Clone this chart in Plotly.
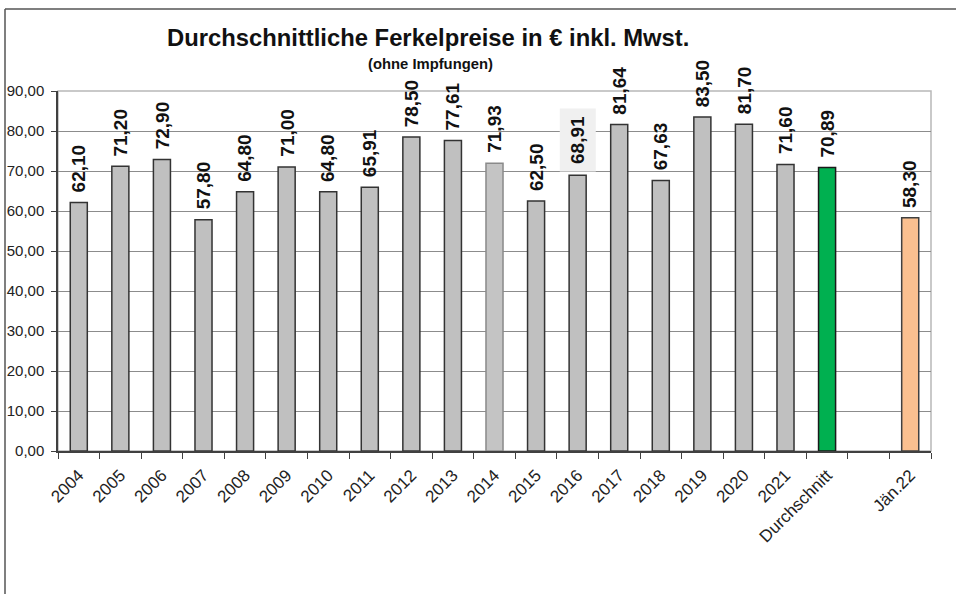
import plotly.graph_objects as go

categories = ["2004", "2005", "2006", "2007", "2008", "2009", "2010", "2011", "2012",
              "2013", "2014", "2015", "2016", "2017", "2018", "2019", "2020", "2021",
              "Durchschnitt", " ", "Jän.22"]
values = [62.10, 71.20, 72.90, 57.80, 64.80, 71.00, 64.80, 65.91, 78.50,
          77.61, 71.93, 62.50, 68.91, 81.64, 67.63, 83.50, 81.70, 71.60,
          70.89, None, 58.30]
value_labels = ["62,10", "71,20", "72,90", "57,80", "64,80", "71,00", "64,80", "65,91", "78,50",
                "77,61", "71,93", "62,50", "68,91", "81,64", "67,63", "83,50", "81,70", "71,60",
                "70,89", "", "58,30"]

GRAY = "#c0c0c0"
fill_colors = []
line_colors = []
for c in categories:
    if c == "Durchschnitt":
        fill_colors.append("#00b050"); line_colors.append("#1a1a1a")
    elif c == "Jän.22":
        fill_colors.append("#fac090"); line_colors.append("#404040")
    elif c == "2014":
        fill_colors.append("#c4c4c4"); line_colors.append("#8a8a8a")
    else:
        fill_colors.append(GRAY); line_colors.append("#333333")

fig = go.Figure()
fig.add_trace(go.Bar(
    x=categories, y=values,
    marker=dict(color=fill_colors, line=dict(color=line_colors, width=1.5)),
    hoverinfo="x+y",
))

FONT = "Liberation Sans, Arial"
annotations = []
for i, (c, v, t) in enumerate(zip(categories, values, value_labels)):
    if v is None:
        continue
    a = dict(x=i, y=v, xref="x", yref="y", text="<b>%s</b>" % t, textangle=-90,
             showarrow=False, yanchor="bottom", xanchor="center",
             font=dict(family=FONT, size=19, color="#111111"),
             yshift=8)
    if c == "2016":
        a.update(bgcolor="#f0f0f0", borderpad=7, yshift=3)
    annotations.append(a)

# page-pixel -> paper helpers (plot area spans x 58..931, y 91..451)
def px(x):
    return (x - 58) / 873

def py(y):
    return (451 - y) / 360

annotations.append(dict(text="<b>Durchschnittliche Ferkelpreise in € inkl. Mwst.</b>",
                        xref="paper", yref="paper", x=px(428), y=py(37),
                        showarrow=False, xanchor="center", yanchor="middle",
                        font=dict(family=FONT, size=23.8, color="#111111")))
annotations.append(dict(text="<b>(ohne Impfungen)</b>",
                        xref="paper", yref="paper", x=px(430), y=py(64),
                        showarrow=False, xanchor="center", yanchor="middle",
                        font=dict(family=FONT, size=14.8, color="#111111")))

shapes = [
    dict(type="rect", xref="paper", yref="paper", x0=0, y0=0, x1=1, y1=1,
         line=dict(color="#b8b8b8", width=1.5), layer="below"),
    dict(type="line", xref="paper", yref="paper", x0=px(5), x1=px(960),
         y0=py(9), y1=py(9), line=dict(color="#555555", width=1.5)),
    dict(type="line", xref="paper", yref="paper", x0=px(5), x1=px(5),
         y0=py(9), y1=py(600), line=dict(color="#555555", width=1.5)),
]

fig.update_layout(
    width=956, height=594,
    margin=dict(l=58, r=25, t=91, b=143),
    paper_bgcolor="white", plot_bgcolor="white",
    separators=",.",
    bargap=0.59,
    showlegend=False,
    annotations=annotations,
    shapes=shapes,
    font=dict(family=FONT, color="#222222"),
)
fig.update_xaxes(
    type="category", categoryorder="array", categoryarray=categories,
    range=[-0.5, len(categories) - 0.5],
    tickangle=-45, tickfont=dict(size=17, color="#222222"),
    showline=True, linecolor="#404040", linewidth=1.5,
    ticks="outside", tickson="boundaries", ticklen=6, tickcolor="#404040",
    ticklabelstandoff=6,
    showgrid=False, automargin=False,
)
fig.update_yaxes(
    range=[0, 90], dtick=10, tickformat=".2f",
    tickfont=dict(size=15, color="#222222"),
    showline=True, linecolor="#404040", linewidth=1.5,
    ticks="outside", ticklen=5, tickcolor="#404040",
    ticklabelstandoff=4,
    showgrid=True, gridcolor="#8c8c8c", gridwidth=1,
    zeroline=False, automargin=False,
)

fig.write_html("out.html",
               config={"displayModeBar": False},
               post_script="document.body.style.margin='0';document.body.style.overflow='hidden';")
